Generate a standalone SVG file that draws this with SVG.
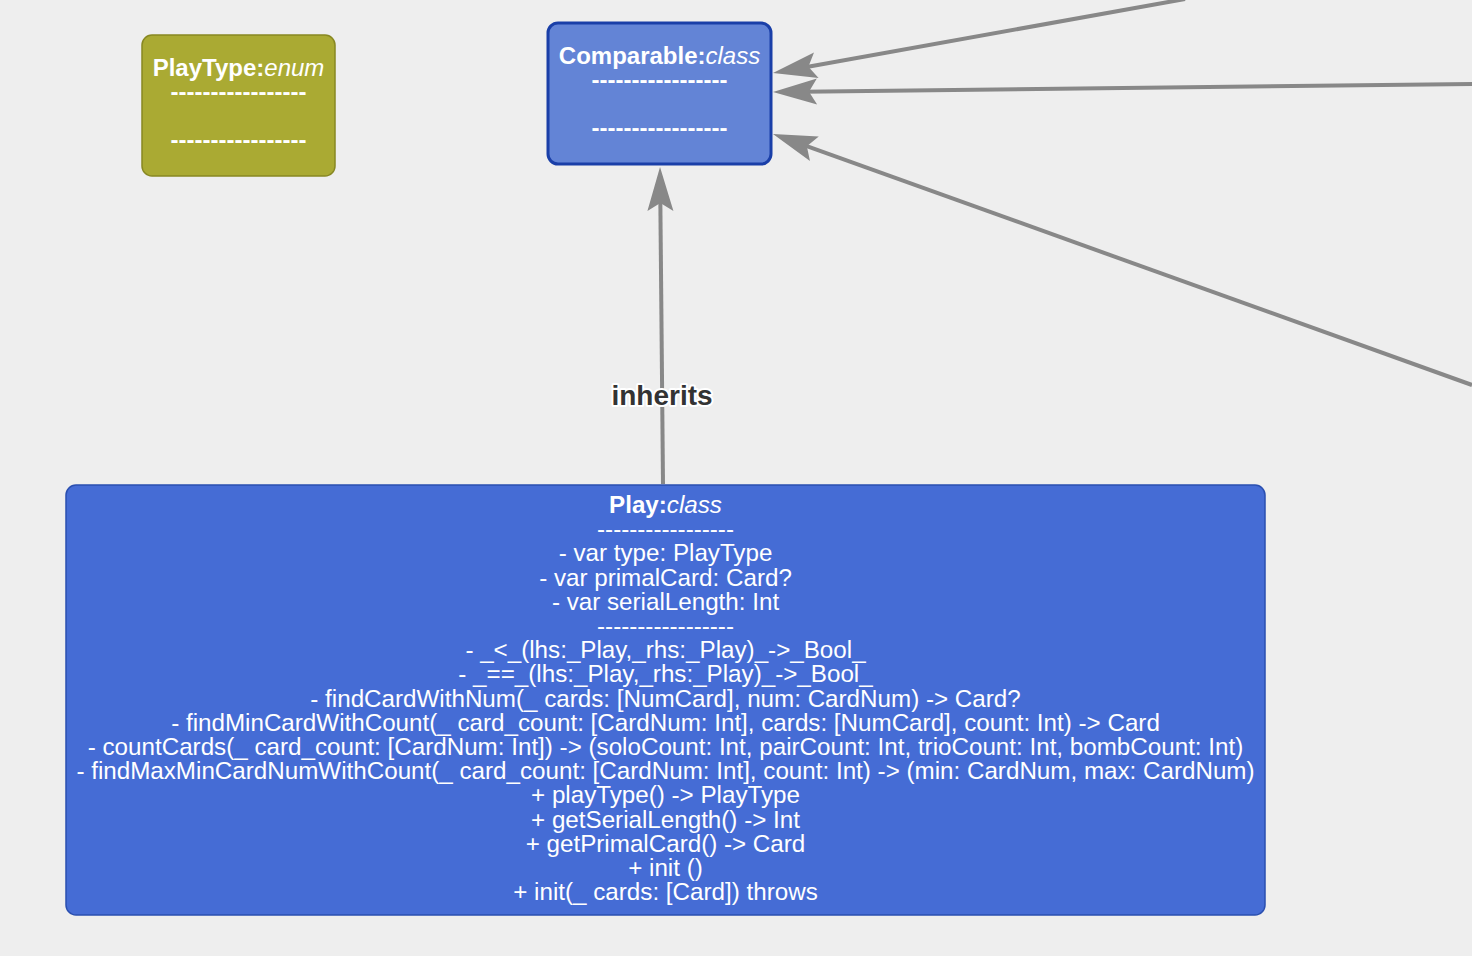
<svg xmlns="http://www.w3.org/2000/svg" width="1472" height="956" viewBox="0 0 1472 956">
<style>
.t{font-family:"Liberation Sans",Arial,sans-serif;font-size:24px;fill:#ffffff;text-anchor:middle}
.p{font-size:24.2px}
.b{font-weight:bold}
.i{font-style:italic;font-weight:normal}
.edge{fill:none;stroke:#888888;stroke-width:4}
.lbl{font-family:"Liberation Sans",Arial,sans-serif;font-size:28px;font-weight:bold;fill:#333333;text-anchor:middle;stroke:#ffffff;stroke-width:4;paint-order:stroke;stroke-linejoin:round}
</style>
<defs>
<marker id="arr" markerUnits="userSpaceOnUse" viewBox="0 -14 46 28" refX="14" refY="0" markerWidth="46" markerHeight="28" orient="auto" overflow="visible">
<path d="M0,-13 L44,0 L0,13 L8,0 Z" fill="#888888"/>
</marker>
</defs>
<rect x="0" y="0" width="1472" height="956" fill="#eeeeee"/>
<g id="connectors">
<path class="edge" d="M1185,-1 L802.5,67.7" marker-end="url(#arr)"/>
<path class="edge" d="M1472,84 L803,91.7" marker-end="url(#arr)"/>
<path class="edge" d="M1472,385 L801.2,144.1" marker-end="url(#arr)"/>
<path class="edge" d="M663,484 L660.3,197" marker-end="url(#arr)"/>
<text class="lbl" x="662" y="405">inherits</text>
</g>
<g id="PlayType">
<rect x="142" y="35" width="193" height="141" rx="10" fill="#aaaa33" stroke="#888822" stroke-width="1.5"/>
<text class="t b" x="238.5" y="76">PlayType:<tspan class="i">enum</tspan></text>
<text class="t b" x="238.5" y="100">-----------------</text>
<text class="t b" x="238.5" y="148">-----------------</text>
</g>
<g id="Comparable">
<rect x="548" y="23" width="223" height="141" rx="10" fill="#6384d6" stroke="#1a3fa8" stroke-width="3"/>
<text class="t b" x="659.5" y="64">Comparable:<tspan class="i">class</tspan></text>
<text class="t b" x="659.5" y="88">-----------------</text>
<text class="t b" x="659.5" y="136">-----------------</text>
</g>
<g id="Play">
<rect x="66" y="485" width="1199" height="430" rx="10" fill="#456cd5" stroke="#2a4fb0" stroke-width="1.5"/>
<text class="t p" x="665.5" y="513"><tspan class="b">Play:</tspan><tspan class="i">class</tspan></text>
<text class="t p" x="665.5" y="537.2">-----------------</text>
<text class="t p" x="665.5" y="561.4">- var type: PlayType</text>
<text class="t p" x="665.5" y="585.6">- var primalCard: Card?</text>
<text class="t p" x="665.5" y="609.8">- var serialLength: Int</text>
<text class="t p" x="665.5" y="634">-----------------</text>
<text class="t p" x="665.5" y="658.2">- _&lt;_(lhs:_Play,_rhs:_Play)_-&gt;_Bool_</text>
<text class="t p" x="665.5" y="682.4">- _==_(lhs:_Play,_rhs:_Play)_-&gt;_Bool_</text>
<text class="t p" x="665.5" y="706.6">- findCardWithNum(_ cards: [NumCard], num: CardNum) -&gt; Card?</text>
<text class="t p" x="665.5" y="730.8">- findMinCardWithCount(_ card_count: [CardNum: Int], cards: [NumCard], count: Int) -&gt; Card</text>
<text class="t p" x="665.5" y="755">- countCards(_ card_count: [CardNum: Int]) -&gt; (soloCount: Int, pairCount: Int, trioCount: Int, bombCount: Int)</text>
<text class="t p" x="665.5" y="779.2">- findMaxMinCardNumWithCount(_ card_count: [CardNum: Int], count: Int) -&gt; (min: CardNum, max: CardNum)</text>
<text class="t p" x="665.5" y="803.4">+ playType() -&gt; PlayType</text>
<text class="t p" x="665.5" y="827.6">+ getSerialLength() -&gt; Int</text>
<text class="t p" x="665.5" y="851.8">+ getPrimalCard() -&gt; Card</text>
<text class="t p" x="665.5" y="876">+ init ()</text>
<text class="t p" x="665.5" y="900.2">+ init(_ cards: [Card]) throws</text>
</g>
</svg>
